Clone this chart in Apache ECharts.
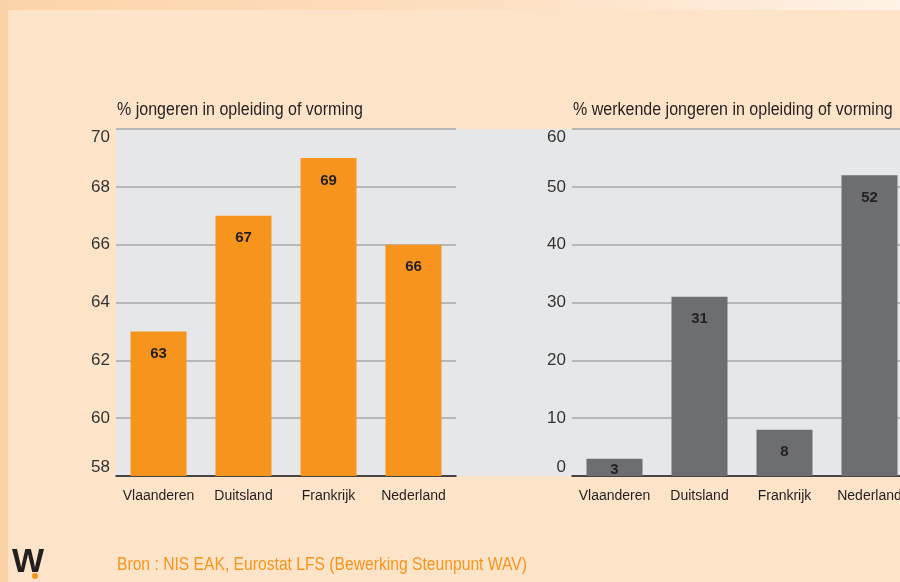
<!DOCTYPE html>
<html>
<head>
<meta charset="utf-8">
<script src="https://cdn.jsdelivr.net/npm/echarts@6/dist/echarts.min.js"></script>
<style>
  html, body { margin: 0; padding: 0; background: #fde4c9; overflow: hidden; }
  #chart { width: 912px; height: 582px; }
</style>
</head>
<body>
<div id="chart"></div>
<script>
// landen (categorieën)
var landen = ["Vlaanderen", "Duitsland", "Frankrijk", "Nederland"];
// % jongeren in opleiding of vorming
var jongerenOpleiding = [63, 67, 69, 66];
// % werkende jongeren in opleiding of vorming
var werkendeOpleiding = [3, 31, 8, 52];

var titelLinks = "% jongeren in opleiding of vorming";
var titelRechts = "% werkende jongeren in opleiding of vorming";
var bron = "Bron : NIS EAK, Eurostat LFS (Bewerking Steunpunt WAV)";

var font = "'Liberation Sans', Arial, sans-serif";
var donker = "#231f20";

var myEcharts = echarts.init(document.getElementById("chart"));

function yAs(gridIndex, min, max, interval) {
  return {
    type: "value",
    gridIndex: gridIndex,
    min: min,
    max: max,
    interval: interval,
    axisLine: { show: false },
    axisTick: { show: false },
    axisLabel: {
      color: "#333", fontSize: 17, fontFamily: font, margin: 6,
      verticalAlignMinLabel: "bottom",
      verticalAlignMaxLabel: "top"
    },
    splitLine: { show: true, lineStyle: { color: "#a5a7aa", width: 1.5 } }
  };
}

function xAs(gridIndex) {
  return {
    type: "category",
    gridIndex: gridIndex,
    data: landen,
    axisLine: { show: true, lineStyle: { color: donker, width: 1.5 } },
    axisTick: { show: false },
    axisLabel: { color: donker, fontSize: 14, fontFamily: font, margin: 13, interval: 0 }
  };
}

var label = {
  show: true,
  position: "insideTop",
  distance: 15,
  color: donker,
  fontSize: 15,
  fontWeight: "bold",
  fontFamily: font
};

// heel korte balken: label dichter bij de top
function balkData(arr) {
  return arr.map(function (v) {
    return v < 5 ? { value: v, label: { distance: 4 } } : v;
  });
}

// smalle tekst (het origineel gebruikt een condensed letter)
function tekst(str, x, y, kleur, sx) {
  return {
    type: "text", x: x, y: y, scaleX: sx,
    style: { text: str, fontSize: 18, fontFamily: font, fill: kleur, textVerticalAlign: "middle" }
  };
}

var option = {
  backgroundColor: "#fde4c9",
  animation: false,
  graphic: [
    // rand links en boven
    { type: "rect", left: 0, top: 0, shape: { width: 8, height: 582 }, style: { fill: "#fcd3a7" }, z: -10 },
    {
      type: "rect", left: 0, top: 0, shape: { width: 912, height: 10 }, z: -10,
      style: {
        fill: new echarts.graphic.LinearGradient(0, 0, 1, 0, [
          { offset: 0, color: "#fcd3a7" },
          { offset: 0.55, color: "#fde0c2" },
          { offset: 1, color: "#fef3e8" }
        ])
      }
    },
    // grijze achtergrond achter beide grafieken
    { type: "rect", left: 116, top: 129, shape: { width: 796, height: 347 }, style: { fill: "#e6e7e8" }, z: -5 },
    // logo
    { type: "text", left: 12, top: 546, style: { text: "W", fontSize: 34, fontWeight: "bold", fontFamily: font, fill: donker } },
    { type: "circle", left: 32, top: 573, shape: { r: 3 }, style: { fill: "#f7941d" } },
    tekst(titelLinks, 117, 110, donker, 0.89),
    tekst(titelRechts, 573, 110, donker, 0.89),
    tekst(bron, 117, 565, "#f7941d", 0.87)
  ],
  grid: [
    { left: 116, width: 340, top: 129, bottom: 106 },
    { left: 572, width: 340, top: 129, bottom: 106 }
  ],
  xAxis: [xAs(0), xAs(1)],
  yAxis: [yAs(0, 58, 70, 2), yAs(1, 0, 60, 10)],
  series: [
    {
      name: titelLinks,
      type: "bar",
      xAxisIndex: 0,
      yAxisIndex: 0,
      barWidth: 56,
      itemStyle: { color: "#f7941d" },
      label: label,
      data: balkData(jongerenOpleiding)
    },
    {
      name: titelRechts,
      type: "bar",
      xAxisIndex: 1,
      yAxisIndex: 1,
      barWidth: 56,
      itemStyle: { color: "#6d6e71" },
      label: label,
      data: balkData(werkendeOpleiding)
    }
  ]
};

myEcharts.setOption(option);
</script>
</body>
</html>
